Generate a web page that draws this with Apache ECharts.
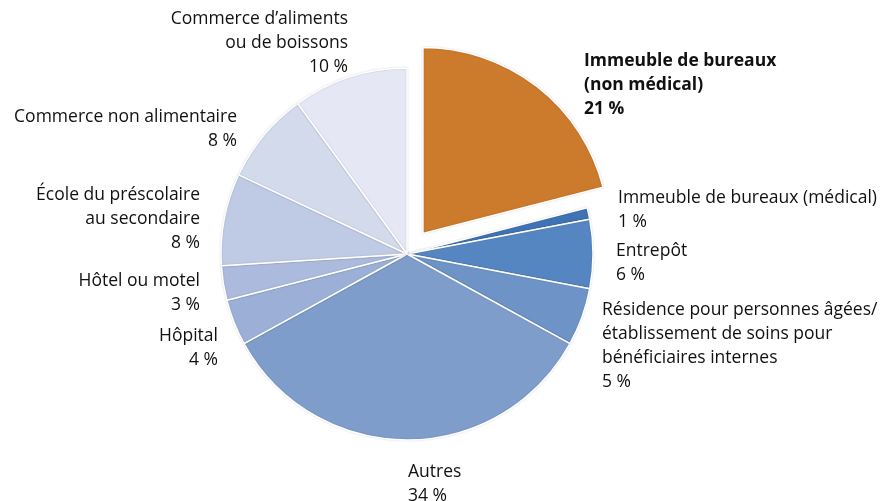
<!DOCTYPE html>
<html>
<head>
<meta charset="utf-8">
<script src="https://cdn.jsdelivr.net/npm/echarts@6/dist/echarts.min.js"></script>
<style>
	html, body { margin: 0; padding: 0; background: #fff; }
	#pie { width: 887px; height: 501px; }
</style>
</head>
<body>
<div id="pie"></div>
<script>
// catégories dans l'ordre des aiguilles d'une montre, à partir de midi
var categories = [
	'Immeuble de bureaux\n(non médical)',
	'Immeuble de bureaux (médical)',
	'Entrepôt',
	'Résidence pour personnes âgées/\nétablissement de soins pour\nbénéficiaires internes',
	'Autres',
	'Hôpital',
	'Hôtel ou motel',
	'École du préscolaire\nau secondaire',
	'Commerce non alimentaire',
	'Commerce d\u2019aliments\nou de boissons'
];
var values = [21, 1, 6, 5, 34, 4, 3, 8, 8, 10];
var colors = ['#CC7A2C', '#3F73B5', '#5686C2', '#6E93C6', '#7E9DCB',
	'#9CB0D7', '#ABBADD', '#BFCAE4', '#D3DAEC', '#E5E8F4'];

// position des étiquettes (x, y du haut, alignement)
var labelPos = [
	[584, 49, 'left'],
	[618, 186, 'left'],
	[616, 239, 'left'],
	[602, 298, 'left'],
	[408, 460, 'left'],
	[218, 324, 'right'],
	[200, 269, 'right'],
	[200, 183, 'right'],
	[237, 105, 'right'],
	[348, 7, 'right']
];

function showPie() {
	var myChart = echarts.init(document.getElementById('pie'));
	var data = [];
	for (var i = 0; i < values.length; i++) {
		data.push({
			value: values[i],
			name: categories[i],
			selected: i === 0,
			itemStyle: {color: colors[i]},
			// l'étiquette de la part détachée est dessinée à part (l'état "select" ignore labelLayout)
			label: i === 0 ? {show: false} : {}
		});
	}
	var option = {
		animation: false,
		graphic: [{
			type: 'text',
			left: labelPos[0][0],
			top: labelPos[0][1],
			style: {
				text: categories[0] + '\n' + values[0] + ' %',
				font: 'bold 17.5px "Open Sans"',
				lineHeight: 24,
				fill: '#111'
			}
		}],
		series: [{
			type: 'pie',
			center: [407, 254],
			radius: 186,
			startAngle: 90,
			clockwise: true,
			selectedMode: 'single',
			selectedOffset: 26,
			data: data,
			itemStyle: {
				borderColor: '#fff',
				borderWidth: 1.5,
				shadowColor: 'rgba(0,0,0,0.15)',
				shadowBlur: 2
			},
			label: {
				show: true,
				position: 'outside',
				formatter: '{b}\n{c} %',
				fontFamily: 'Open Sans',
				fontSize: 17.5,
				lineHeight: 24,
				color: '#111',
				overflow: 'none'
			},
			labelLine: {show: false},
			labelLayout: function (params) {
				var p = labelPos[params.dataIndex];
				return {x: p[0], y: p[1], align: p[2], verticalAlign: 'top'};
			},
			emphasis: {disabled: true}
		}]
	};
	myChart.setOption(option);
}
showPie();
</script>
</body>
</html>
